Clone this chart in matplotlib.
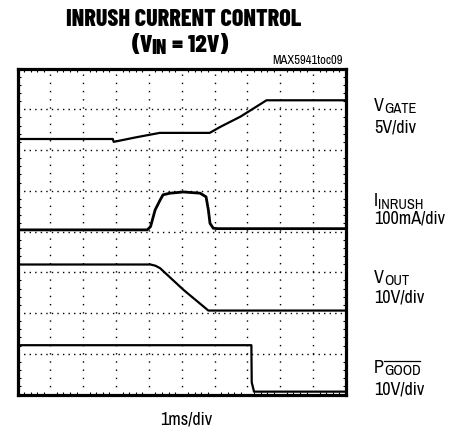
import matplotlib
matplotlib.use("Agg")
import matplotlib.pyplot as plt
from matplotlib.lines import Line2D
from matplotlib.ticker import MultipleLocator

plt.rcParams['lines.scale_dashes'] = False
FAM = ['Archivo Narrow', 'Roboto Condensed', 'DejaVu Sans']
TFAM = ['Barlow Condensed', 'Roboto Condensed', 'DejaVu Sans']

# ---- data (time in ms, 1 ms/div; trace levels in screen divisions) ----
vgate_t = [0, 2.9, 2.93, 3.6, 4.33, 5.85, 6.18, 6.79, 7.58, 10]
vgate_v = [6.27, 6.27, 6.2, 6.31, 6.42, 6.42, 6.57, 6.82, 7.22, 7.22]

inrush_t = [0, 3.95, 4.05, 4.19, 4.34, 4.43, 4.64, 5.05, 5.56, 5.74, 5.81, 5.86, 5.96, 6.1, 10]
inrush_v = [4.04, 4.04, 4.12, 4.53, 4.77, 4.9, 4.94, 4.97, 4.94, 4.85, 4.53, 4.2, 4.08, 4.07, 4.07]

vout_t = [0, 4.05, 4.2, 4.34, 5.05, 5.81, 10]
vout_v = [3.19, 3.19, 3.16, 3.1, 2.57, 2.06, 2.06]

pgood_t = [0, 7.12, 7.13, 7.2, 10]
pgood_v = [1.21, 1.21, 0.3, 0.07, 0.07]

n_xdiv = 10
n_ydiv = 8

title_1 = "INRUSH CURRENT CONTROL"
title_2 = ["(V", "IN", " = 12V)"]
code_label = "MAX5941toc09"
x_label = "1ms/div"
channel_names = [("V", "GATE"), ("I", "INRUSH"), ("V", "OUT"), ("P", "GOOD")]
channel_scales = ["5V/div", "100mA/div", "10V/div", "10V/div"]

W, H = 457, 429
fig = plt.figure(figsize=(W / 100, H / 100), dpi=100)
ax = fig.add_axes([17.5 / W, 1 - 394.5 / H, (346 - 17.5) / W, (394.5 - 68.5) / H])
ax.set_xlim(0, n_xdiv)
ax.set_ylim(0, n_ydiv)

ax.xaxis.set_major_locator(MultipleLocator(1))
ax.yaxis.set_major_locator(MultipleLocator(1))
ax.xaxis.set_minor_locator(MultipleLocator(0.2))
ax.yaxis.set_minor_locator(MultipleLocator(0.2))
ax.tick_params(which='both', direction='in', labelbottom=False, labelleft=False,
               top=True, right=True, color='black')
ax.tick_params(which='major', length=0)
ax.tick_params(which='minor', length=2.5, width=0.8)
ax.xaxis.grid(True, which='major', color='black', linewidth=1.0, linestyle=(0, (1.0, 4.9)))
ax.yaxis.grid(True, which='major', color='black', linewidth=1.0, linestyle=(0, (1.0, 3.0)))
for s in ax.spines.values():
    s.set_linewidth(2.3)
    s.set_color('black')

kw = dict(color='black', solid_joinstyle='round', solid_capstyle='butt')
ax.plot(vgate_t, vgate_v, lw=1.6, **kw)
ax.plot(inrush_t, inrush_v, lw=2.0, **kw)
ax.plot(vout_t, vout_v, lw=1.6, **kw)
ax.plot(pgood_t, pgood_v, lw=1.6, **kw)

renderer = fig.canvas.get_renderer()


def row(segments, x_px, y_px, anchor='left', family=FAM, **tkw):
    """segments: list of (text, fontsize, dy_px[, dx_px]) placed left to right on baseline y_px."""
    arts = []
    x = x_px
    for seg in segments:
        txt, fs, dy = seg[:3]
        dx = seg[3] if len(seg) > 3 else 0
        x += dx
        t = fig.text(x / W, 1 - (y_px + dy) / H, txt, fontsize=fs, family=family,
                     va='baseline', ha='left', **tkw)
        arts.append(t)
        x += t.get_window_extent(renderer).width
    total = x - x_px
    shift = {'left': 0, 'center': total / 2, 'right': total}[anchor]
    for t in arts:
        px, py = t.get_position()
        t.set_position((px - shift / W, py))
    return arts, total


def fitted_row(segments_rel, target_px, x_px, y_px, anchor='left', **tkw):
    """segments_rel: (text, size ratio, dy_px[, dx_px]). Base size chosen so row width = target."""
    segs = lambda b: [(s[0], b * s[1]) + tuple(s[2:]) for s in segments_rel]
    arts, w = row(segs(10), 0, -100, **tkw)
    for a in arts:
        a.remove()
    base = 10 * target_px / w
    return row(segs(base), x_px, y_px, anchor, **tkw)[0], base


# title
TB = dict(fontweight=800, family=TFAM)
fitted_row([(title_1, 1, 0)], 234, 183.3, 26, anchor='center', **TB)
fitted_row([(title_2[0], 1, 0), (title_2[1], 0.8, 2.6, -2.0), (title_2[2], 1, 0)], 94,
           179.7, 51.7, anchor='center', **TB)
fitted_row([(code_label, 1, 0)], 70, 343, 64, anchor='right')

# right-hand labels
LX = 374
_, FS = fitted_row([("100mA/div", 1, 0)], 71, LX, 223.3)
SUBR = 0.8
name_base = [110.7, 206, 282.7, 372.7]
scale_base = [132.3, None, 302.7, 395]
name_arts = []
for (main, sub), sc, yb, ys in zip(channel_names, channel_scales, name_base, scale_base):
    name_arts.append(row([(main, FS, 0), (sub, FS * SUBR, 2.6)], LX, yb)[0])
    if ys is not None:
        row([(sc, FS, 0)], LX, ys)

fig.canvas.draw()
bb = name_arts[3][1].get_window_extent(renderer)
ytop = H - 361
fig.add_artist(Line2D([(bb.x0 + 0.5) / W, (bb.x1 - 0.5) / W], [ytop / H, ytop / H],
                      color='black', lw=0.9, transform=fig.transFigure))

row([(x_label, FS, 0)], 186, 424, anchor='center')

fig.savefig("out.png", dpi=100)
